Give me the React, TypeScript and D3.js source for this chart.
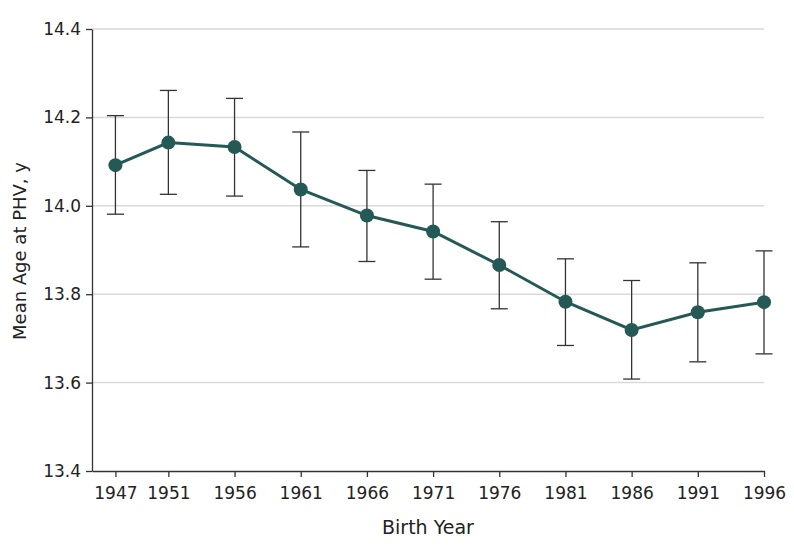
import { useEffect, useRef } from "react";
import * as d3 from "d3";

const years = [1947, 1951, 1956, 1961, 1966, 1971, 1976, 1981, 1986, 1991, 1996];
const meanAge = [14.092, 14.143, 14.133, 14.037, 13.978, 13.942, 13.866, 13.783, 13.719, 13.759, 13.782];
const ciLow = [13.981, 14.026, 14.022, 13.907, 13.874, 13.834, 13.767, 13.684, 13.608, 13.647, 13.665];
const ciHigh = [14.204, 14.261, 14.243, 14.167, 14.08, 14.049, 13.964, 13.88, 13.831, 13.871, 13.898];
const yTicks = [13.4, 13.6, 13.8, 14.0, 14.2, 14.4];

const width = 794;
const height = 556;
const font = "'DejaVu Sans', sans-serif";

export default function App() {
  const svgRef = useRef(null);

  useEffect(() => {
    const svg = d3.select(svgRef.current);
    svg.selectAll("*").remove();

    const x = d3.scaleLinear().domain([1945.23, 1996]).range([92, 764]);
    const y = d3.scaleLinear().domain([13.4, 14.4]).range([471, 29]);

    const data = years.map((yr, i) => ({
      year: yr,
      mean: meanAge[i],
      lo: ciLow[i],
      hi: ciHigh[i],
    }));

    // gridlines
    svg
      .append("g")
      .selectAll("line")
      .data(yTicks.filter((t) => t > 13.4))
      .enter()
      .append("line")
      .attr("x1", x.range()[0])
      .attr("x2", x.range()[1])
      .attr("y1", (d) => y(d))
      .attr("y2", (d) => y(d))
      .attr("stroke", "#d9d9d9")
      .attr("stroke-width", 1.5);

    // y axis
    const yAxis = svg
      .append("g")
      .attr("transform", `translate(${x.range()[0]},0)`)
      .call(
        d3
          .axisLeft(y)
          .tickValues(yTicks)
          .tickFormat(d3.format(".1f"))
          .tickSize(6)
          .tickSizeOuter(0)
      );
    yAxis.select(".domain").attr("stroke", "#333").attr("stroke-width", 1.3);
    yAxis.selectAll(".tick line").attr("stroke", "#333").attr("stroke-width", 1.3);
    yAxis
      .selectAll(".tick text")
      .attr("x", -11)
      .style("font-family", font)
      .style("font-size", "17px")
      .attr("fill", "#222");

    // x axis
    const xAxis = svg
      .append("g")
      .attr("transform", `translate(0,${y.range()[0]})`)
      .call(
        d3
          .axisBottom(x)
          .tickValues(years)
          .tickFormat(d3.format("d"))
          .tickSize(6)
          .tickSizeOuter(0)
      );
    xAxis.select(".domain").attr("stroke", "#333").attr("stroke-width", 1.3);
    xAxis.selectAll(".tick line").attr("stroke", "#333").attr("stroke-width", 1.3);
    xAxis
      .selectAll(".tick text")
      .attr("y", 15.5)
      .style("font-family", font)
      .style("font-size", "17px")
      .attr("fill", "#222");

    // error bars
    const bars = svg.append("g").attr("stroke", "#333").attr("stroke-width", 1.3);
    data.forEach((d) => {
      const cx = x(d.year);
      bars.append("line").attr("x1", cx).attr("x2", cx).attr("y1", y(d.lo)).attr("y2", y(d.hi));
      bars.append("line").attr("x1", cx - 8.5).attr("x2", cx + 8.5).attr("y1", y(d.lo)).attr("y2", y(d.lo));
      bars.append("line").attr("x1", cx - 8.5).attr("x2", cx + 8.5).attr("y1", y(d.hi)).attr("y2", y(d.hi));
    });

    // line
    const line = d3
      .line()
      .x((d) => x(d.year))
      .y((d) => y(d.mean));
    svg
      .append("path")
      .datum(data)
      .attr("d", line)
      .attr("fill", "none")
      .attr("stroke", "#255955")
      .attr("stroke-width", 3);

    // points
    svg
      .append("g")
      .selectAll("circle")
      .data(data)
      .enter()
      .append("circle")
      .attr("cx", (d) => x(d.year))
      .attr("cy", (d) => y(d.mean))
      .attr("r", 7)
      .attr("fill", "#255955");

    // axis titles
    svg
      .append("text")
      .attr("x", (x.range()[0] + x.range()[1]) / 2)
      .attr("y", 533.5)
      .attr("text-anchor", "middle")
      .style("font-family", font)
      .style("font-size", "19px")
      .attr("fill", "#222")
      .text("Birth Year");

    svg
      .append("text")
      .attr("transform", `translate(26,251) rotate(-90)`)
      .attr("text-anchor", "middle")
      .style("font-family", font)
      .style("font-size", "18px")
      .attr("fill", "#222")
      .text("Mean Age at PHV, y");
  }, []);

  return (
    <div style={{ position: "absolute", left: 0, top: 0 }}>
      <svg ref={svgRef} width={width} height={height} style={{ display: "block", background: "#fff" }}></svg>
    </div>
  );
}
